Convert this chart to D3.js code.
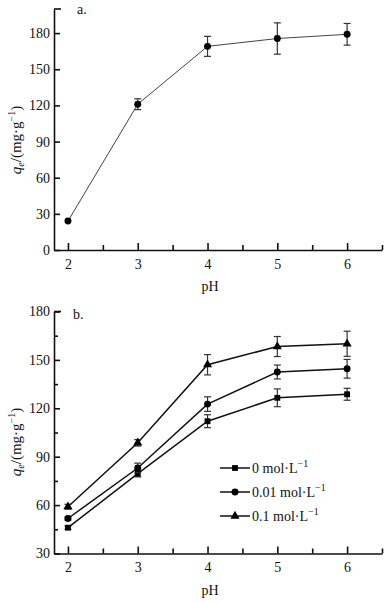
<!DOCTYPE html>
<html>
<head>
<meta charset="utf-8">
<script src="https://cdn.jsdelivr.net/npm/d3@7"></script>
<style>
  body { margin: 0; background: #fff; }
  svg text { font-family: "Liberation Serif", "Times New Roman", serif; fill: #111; }
</style>
</head>
<body>
<div id="vis"></div>
<script>
// pH values shared by both panels
const phValues = [2, 3, 4, 5, 6];

// panel a: adsorption capacity vs pH
const qeA = [24, 121, 169, 175.5, 179];
const errA = [0, 4.5, 8.3, 13, 9];

// panel b: three ionic strengths
const seriesNames = ["0 mol·L", "0.01 mol·L", "0.1 mol·L"];
const seriesShapes = ["square", "circle", "triangle"];
const qeB0 = [46, 79.5, 112, 126.5, 128.7];
const errB0 = [1, 2, 4, 5.5, 3.7];
const qeB1 = [51.7, 83, 122.6, 142.5, 144.5];
const errB1 = [1, 3, 4.5, 4.3, 5.8];
const qeB2 = [59, 98.6, 147, 158.3, 160];
const errB2 = [1.5, 2, 6.3, 6.2, 7.8];

const yTicksA = [0, 30, 60, 90, 120, 150, 180];
const yTicksB = [30, 60, 90, 120, 150, 180];
const yMinorB = [45, 75, 105, 135, 165];
const xMinor = [2.5, 3.5, 4.5, 5.5, 6.5];

const W = 392, H = 602;
const svg = d3.select("#vis").append("svg").attr("width", W).attr("height", H);

const x = d3.scaleLinear().domain([1.8, 6.5]).range([54, 382]);

const symbolFor = {
  square: d3.symbol().type(d3.symbolSquare).size(34),
  circle: d3.symbol().type(d3.symbolCircle).size(38),
  triangle: d3.symbol().type(d3.symbolTriangle).size(36),
};

function drawPanel(opts) {
  const { y, yTicks, yMinor, top, label, labelX, labelY, titleY } = opts;
  const g = svg.append("g");
  const y0 = y.range()[0];

  // x axis
  const xa = g.append("g").attr("transform", `translate(0,${y0})`)
    .call(d3.axisBottom(x).tickValues(phValues).tickSizeInner(-7).tickSizeOuter(0)
      .tickPadding(9).tickFormat(d3.format("d")));
  g.append("g").attr("transform", `translate(0,${y0})`)
    .call(d3.axisBottom(x).tickValues(xMinor).tickSizeInner(-5).tickSizeOuter(0).tickFormat(""))
    .select(".domain").remove();

  // y axis
  const ya = g.append("g").attr("transform", "translate(54,0)")
    .call(d3.axisLeft(y).tickValues(yTicks).tickSizeInner(-6).tickSizeOuter(0).tickPadding(4));
  if (yMinor) {
    g.append("g").attr("transform", "translate(54,0)")
      .call(d3.axisLeft(y).tickValues(yMinor).tickSizeInner(-4).tickSizeOuter(0).tickFormat(""))
      .select(".domain").remove();
  }
  // end cap at top of y axis
  g.append("line").attr("x1", 54).attr("x2", 61)
    .attr("y1", y(y.domain()[1])).attr("y2", y(y.domain()[1]))
    .attr("stroke", "#111").attr("stroke-width", 1.6);

  g.selectAll(".domain, .tick line").attr("stroke", "#111").attr("stroke-width", 1.6);
  g.selectAll(".tick text").attr("font-size", 14).attr("font-family", "Liberation Serif").attr("fill", "#111");

  // x title
  g.append("text").attr("x", 210).attr("y", y0 + 41).attr("text-anchor", "middle")
    .attr("font-size", 14).text("pH");

  // y title
  const t = g.append("text").attr("transform", `translate(21,${titleY}) rotate(-90)`)
    .attr("text-anchor", "middle").attr("font-size", 15);
  t.append("tspan").attr("font-style", "italic").text("q");
  t.append("tspan").attr("font-style", "italic").attr("font-size", 10).attr("dy", 3).text("e");
  t.append("tspan").attr("dy", -3).text("/(mg·g");
  t.append("tspan").attr("font-size", 10).attr("dy", -6).text("−1");
  t.append("tspan").attr("dy", 6).text(")");

  // panel label
  g.append("text").attr("x", labelX).attr("y", labelY).attr("font-size", 14).text(label);
  return g;
}

function drawSeries(g, y, values, errs, shape, lineWidth, lineColor) {
  const pts = phValues.map((p, i) => ({ p, v: values[i], e: errs[i] }));
  g.append("path").datum(pts)
    .attr("fill", "none").attr("stroke", lineColor).attr("stroke-width", lineWidth)
    .attr("d", d3.line().x(d => x(d.p)).y(d => y(d.v)));
  const eb = g.append("g").attr("stroke", "#333").attr("stroke-width", 1.2);
  pts.filter(d => d.e > 0).forEach(d => {
    eb.append("line").attr("x1", x(d.p)).attr("x2", x(d.p)).attr("y1", y(d.v - d.e)).attr("y2", y(d.v + d.e));
    [d.v - d.e, d.v + d.e].forEach(v => {
      eb.append("line").attr("x1", x(d.p) - 3.5).attr("x2", x(d.p) + 3.5).attr("y1", y(v)).attr("y2", y(v));
    });
  });
  g.append("g").selectAll("path").data(pts).join("path")
    .attr("transform", d => `translate(${x(d.p)},${y(d.v)})`)
    .attr("d", symbolFor[shape]()).attr("fill", "#000");
}

// panel a
const yA = d3.scaleLinear().domain([0, 200]).range([250, 9]);
const gA = drawPanel({ y: yA, yTicks: yTicksA, top: 9, label: "a.", labelX: 77, labelY: 14, titleY: 140 });
drawSeries(gA, yA, qeA, errA, "circle", 1, "#444");

// panel b
const yB = d3.scaleLinear().domain([30, 180]).range([553.5, 311.5]);
const gB = drawPanel({ y: yB, yTicks: yTicksB, yMinor: yMinorB, top: 311.5, label: "b.", labelX: 73, labelY: 319, titleY: 442 });
const seriesB = [[qeB0, errB0], [qeB1, errB1], [qeB2, errB2]];
seriesB.forEach((s, i) => drawSeries(gB, yB, s[0], s[1], seriesShapes[i], 1.5, "#111"));

// legend
const legendRows = [468, 492, 516];
seriesNames.forEach((name, i) => {
  const lg = gB.append("g").attr("transform", `translate(220,${legendRows[i]})`);
  lg.append("line").attr("x1", 0).attr("x2", 30).attr("y1", 0).attr("y2", 0)
    .attr("stroke", "#111").attr("stroke-width", 1.5);
  lg.append("path").attr("transform", "translate(15,0)").attr("d", symbolFor[seriesShapes[i]]()).attr("fill", "#000");
  const tx = lg.append("text").attr("x", 32).attr("y", 5).attr("font-size", 14);
  tx.append("tspan").text(name);
  tx.append("tspan").attr("font-size", 10).attr("dy", -6).text("−1");
});
</script>
</body>
</html>
